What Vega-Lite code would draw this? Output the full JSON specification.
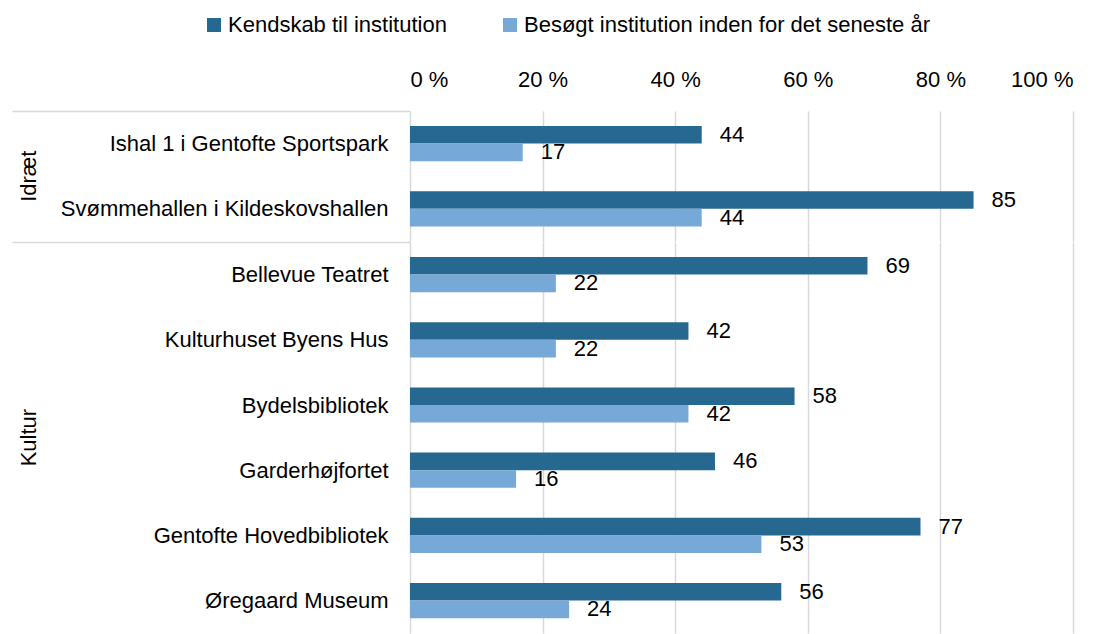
{
  "$schema": "https://vega.github.io/schema/vega-lite/v6.json",
  "background": "white",
  "padding": {"left": 11, "top": 14, "right": 5, "bottom": 0},
  "bounds": "flush",
  "config": {
    "font": "Liberation Sans",
    "view": {"stroke": null},
    "axis": {"labelFont": "Liberation Sans", "labelColor": "#000000"},
    "header": {"labelFont": "Liberation Sans"}
  },
  "data": {
    "values": [
      {"gruppe": "Idræt", "institution": "Ishal 1 i Gentofte Sportspark", "serie": "Kendskab til institution", "pct": 44},
      {"gruppe": "Idræt", "institution": "Ishal 1 i Gentofte Sportspark", "serie": "Besøgt institution inden for det seneste år", "pct": 17},
      {"gruppe": "Idræt", "institution": "Svømmehallen i Kildeskovshallen", "serie": "Kendskab til institution", "pct": 85},
      {"gruppe": "Idræt", "institution": "Svømmehallen i Kildeskovshallen", "serie": "Besøgt institution inden for det seneste år", "pct": 44},
      {"gruppe": "Kultur", "institution": "Bellevue Teatret", "serie": "Kendskab til institution", "pct": 69},
      {"gruppe": "Kultur", "institution": "Bellevue Teatret", "serie": "Besøgt institution inden for det seneste år", "pct": 22},
      {"gruppe": "Kultur", "institution": "Kulturhuset Byens Hus", "serie": "Kendskab til institution", "pct": 42},
      {"gruppe": "Kultur", "institution": "Kulturhuset Byens Hus", "serie": "Besøgt institution inden for det seneste år", "pct": 22},
      {"gruppe": "Kultur", "institution": "Bydelsbibliotek", "serie": "Kendskab til institution", "pct": 58},
      {"gruppe": "Kultur", "institution": "Bydelsbibliotek", "serie": "Besøgt institution inden for det seneste år", "pct": 42},
      {"gruppe": "Kultur", "institution": "Garderhøjfortet", "serie": "Kendskab til institution", "pct": 46},
      {"gruppe": "Kultur", "institution": "Garderhøjfortet", "serie": "Besøgt institution inden for det seneste år", "pct": 16},
      {"gruppe": "Kultur", "institution": "Gentofte Hovedbibliotek", "serie": "Kendskab til institution", "pct": 77},
      {"gruppe": "Kultur", "institution": "Gentofte Hovedbibliotek", "serie": "Besøgt institution inden for det seneste år", "pct": 53},
      {"gruppe": "Kultur", "institution": "Øregaard Museum", "serie": "Kendskab til institution", "pct": 56},
      {"gruppe": "Kultur", "institution": "Øregaard Museum", "serie": "Besøgt institution inden for det seneste år", "pct": 24}
    ]
  },
  "facet": {
    "row": {
      "field": "gruppe",
      "type": "nominal",
      "sort": ["Idræt", "Kultur"],
      "header": {"title": null, "labelAngle": -90, "labelOrient": "left", "labelFontSize": 22, "labelColor": "#000000", "labelPadding": 359}
    }
  },
  "spacing": 0,
  "resolve": {"scale": {"y": "independent"}},
  "spec": {
    "width": 663,
    "height": {"step": 65.2, "for": "position"},
    "encoding": {
      "y": {
        "field": "institution",
        "type": "nominal",
        "sort": ["Ishal 1 i Gentofte Sportspark", "Svømmehallen i Kildeskovshallen", "Bellevue Teatret", "Kulturhuset Byens Hus", "Bydelsbibliotek", "Garderhøjfortet", "Gentofte Hovedbibliotek", "Øregaard Museum"],
        "scale": {"paddingInner": 0.46, "paddingOuter": 0.23},
        "axis": {
          "title": null,
          "labelFontSize": 22,
          "labelLimit": 400,
          "tickSize": 398,
          "tickOffset": -32.6,
          "labelOffset": 32.6,
          "tickColor": {"condition": {"test": "datum.value === 'Ishal 1 i Gentofte Sportspark' || datum.value === 'Bellevue Teatret'", "value": "#d9d9d9"}, "value": "transparent"},
          "tickWidth": 1.5,
          "labelPadding": -376,
          "domain": false
        }
      },
      "yOffset": {
        "field": "serie",
        "type": "nominal",
        "sort": ["Kendskab til institution", "Besøgt institution inden for det seneste år"],
        "scale": {"paddingInner": 0, "paddingOuter": 0, "range": [0, 35.2]}
      },
      "x": {
        "field": "pct",
        "type": "quantitative",
        "scale": {"domain": [0, 100]},
        "axis": {
          "orient": "top",
          "title": null,
          "values": [0, 20, 40, 60, 80, 100],
          "labelExpr": "datum.value + ' %'",
          "labelFontSize": 22,
          "labelPadding": 20,
          "domain": false,
          "ticks": false,
          "grid": true,
          "gridColor": "#d9d9d9",
          "gridWidth": 1.5
        }
      }
    },
    "layer": [
      {
        "mark": {"type": "bar"},
        "encoding": {
          "color": {
            "field": "serie",
            "type": "nominal",
            "scale": {"domain": ["Kendskab til institution", "Besøgt institution inden for det seneste år"], "range": ["#276891", "#76A9D8"]},
            "legend": {
              "title": null,
              "orient": "none",
              "legendX": -207,
              "legendY": -97,
              "direction": "horizontal",
              "symbolType": "square",
              "symbolSize": 196,
              "symbolStrokeWidth": 0,
              "labelFontSize": 22,
              "labelLimit": 600,
              "labelColor": "#000000",
              "labelOffset": 3,
              "columnPadding": 52
            }
          }
        }
      },
      {
        "mark": {"type": "text", "align": "left", "baseline": "middle", "dx": 18, "fontSize": 22, "color": "#000000"},
        "encoding": {"text": {"field": "pct", "type": "quantitative"}}
      }
    ]
  }
}
